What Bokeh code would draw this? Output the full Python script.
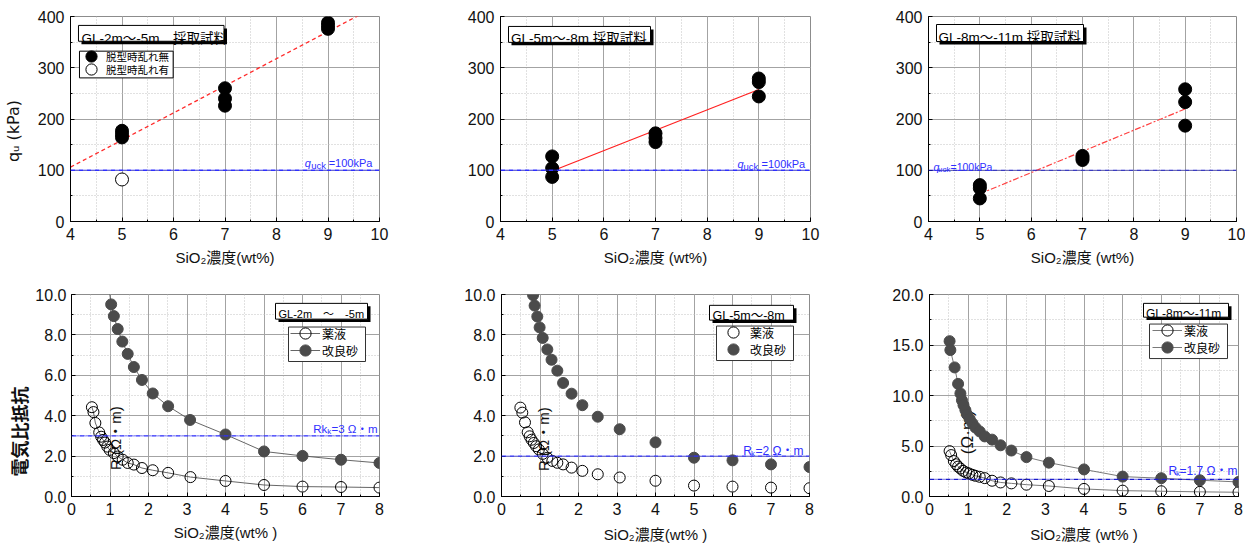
import numpy as np
from bokeh.plotting import figure
from bokeh.models import (Range1d, SingleIntervalTicker, PrintfTickFormatter, Label,
                          BoxAnnotation, Legend, LegendItem, Span)
from bokeh.layouts import row, column
from bokeh.embed import file_html
from bokeh.resources import INLINE

# ---------------- data ----------------
# upper row: qu (kPa) vs SiO2 concentration (wt%)
top1_x_intact = [5, 5, 5, 7, 7, 7, 9, 9, 9]
top1_qu_intact = [177, 170, 164, 260, 240, 226, 388, 382, 376]
top1_x_disturbed = [5]
top1_qu_disturbed = [82]

top2_x = [5, 5, 5, 7, 7, 7, 9, 9, 9]
top2_qu = [127, 104, 87, 172, 163, 155, 279, 272, 244]

top3_x = [5, 5, 5, 7, 7, 7, 9, 9, 9]
top3_qu = [71, 65, 45, 128, 124, 120, 258, 233, 187]

quck = 100

# lower row: electrical resistivity R (ohm m) vs SiO2 concentration (wt%)
bot1_x_liq = [0.53, 0.57, 0.62, 0.72, 0.77, 0.82, 0.87, 0.93, 0.99, 1.1, 1.2, 1.33, 1.46,
              1.62, 1.83, 2.11, 2.51, 3.09, 4, 5, 6, 7, 8]
bot1_r_liq = [4.42, 4.18, 3.64, 3.17, 2.96, 2.80, 2.67, 2.47, 2.31, 2.15, 1.98, 1.82, 1.66,
              1.58, 1.41, 1.30, 1.17, 0.96, 0.77, 0.57, 0.49, 0.47, 0.44]
bot1_x_sand = [0.88, 1.03, 1.1, 1.2, 1.32, 1.46, 1.62, 1.83, 2.11, 2.51, 3.08, 4, 5, 6, 7, 8]
bot1_r_sand = [11.6, 9.51, 8.93, 8.29, 7.67, 7.06, 6.41, 5.77, 5.10, 4.47, 3.79, 3.07, 2.23,
               2.01, 1.82, 1.66]
bot1_rk = 3.0

bot2_x_liq = [0.49, 0.54, 0.61, 0.68, 0.73, 0.78, 0.84, 0.90, 0.97, 1.07, 1.19, 1.32, 1.45,
              1.60, 1.82, 2.10, 2.50, 3.07, 4, 5, 6, 7, 8]
bot2_r_liq = [4.40, 4.15, 3.67, 3.18, 2.98, 2.81, 2.65, 2.49, 2.33, 2.11, 1.92, 1.76, 1.67,
              1.59, 1.43, 1.27, 1.10, 0.94, 0.78, 0.54, 0.49, 0.44, 0.41]
bot2_x_sand = [0.82, 0.86, 0.93, 0.99, 1.07, 1.19, 1.30, 1.45, 1.60, 1.82, 2.10, 2.50, 3.07,
               4, 5, 6, 7, 8]
bot2_r_sand = [9.97, 9.45, 8.91, 8.37, 7.85, 7.28, 6.77, 6.23, 5.62, 5.09, 4.52, 3.95, 3.33,
               2.68, 1.92, 1.79, 1.59, 1.46]
bot2_rk = 2.0

bot3_x_liq = [0.52, 0.56, 0.63, 0.69, 0.74, 0.80, 0.87, 0.95, 1.02, 1.11, 1.19, 1.30, 1.43,
              1.62, 1.84, 2.12, 2.51, 3.09, 4, 5, 6, 7, 8]
bot3_r_liq = [4.49, 4.10, 3.51, 3.19, 2.96, 2.77, 2.54, 2.38, 2.28, 2.15, 2.05, 1.95, 1.82,
              1.56, 1.39, 1.30, 1.17, 1.04, 0.75, 0.58, 0.52, 0.46, 0.42]
bot3_x_sand = [0.52, 0.54, 0.65, 0.74, 0.80, 0.84, 0.88, 0.93, 0.97, 1.04, 1.11, 1.19, 1.30,
               1.43, 1.62, 1.84, 2.12, 2.51, 3.09, 4, 5, 6, 7, 8]
bot3_r_sand = [15.38, 14.5, 12.78, 11.15, 10.2, 9.53, 9.04, 8.55, 8.13, 7.68, 7.25, 6.83,
               6.44, 5.95, 5.63, 5.07, 4.55, 3.9, 3.35, 2.68, 1.97, 1.81, 1.61, 1.44]
bot3_rk = 1.7

top_titles = ["GL-2m～-5m　採取試料", "GL-5m～-8m 採取試料", "GL-8m～-11m 採取試料"]
bot_titles = ["GL-2m　～　-5m", "GL-5m～-8m", "GL-8m～-11m"]
top_xlabels = ["SiO₂濃度(wt%)", "SiO₂濃度 (wt%)", "SiO₂濃度 (wt%)"]
bot_xlabels = ["SiO₂濃度(wt% )", "SiO₂濃度(wt% )", "SiO₂濃度 (wt% )"]
top_ylabel = "qᵤ (kPa)"
bot_ylabel = "電気比抵抗"
legend_top = ["脱型時乱れ無", "脱型時乱れ有"]
legend_bot = ["薬液", "改良砂"]

# ---------------- styling helpers ----------------
LAT = "Liberation Sans"
JP = "Liberation Sans, Noto Sans CJK JP"
CJK = "Noto Sans CJK JP"
BLUE = "#2f2fff"
SAND = "#4b4b4b"


class Geo:
    def __init__(self, fl, fr, ft, fb, x0, x1, y0, y1):
        self.fl, self.fr, self.ft, self.fb = fl, fr, ft, fb
        self.x0, self.x1, self.y0, self.y1 = x0, x1, y0, y1

    def x(self, px):
        return self.x0 + (px - self.fl) / (self.fr - self.fl) * (self.x1 - self.x0)

    def y(self, py):
        return self.y0 + (self.fb - py) / (self.fb - self.ft) * (self.y1 - self.y0)


def make_fig(g, box, xint, yint, yfmt=None, xlab_standoff=6):
    L, T, R, B = box
    p = figure(width=R - L, height=B - T,
               x_range=Range1d(g.x0, g.x1), y_range=Range1d(g.y0, g.y1),
               toolbar_location=None, output_backend="svg",
               min_border_left=g.fl - L, min_border_right=R - g.fr,
               min_border_top=g.ft - T, min_border_bottom=B - g.fb)
    p.outline_line_color = "#8c8c8c"
    p.background_fill_color = "white"
    p.border_fill_color = "white"
    xt = SingleIntervalTicker(interval=xint, num_minor_ticks=2)
    yt = SingleIntervalTicker(interval=yint, num_minor_ticks=2)
    p.xaxis.ticker = xt
    p.xgrid.ticker = xt
    p.yaxis.ticker = yt
    p.ygrid.ticker = yt
    if yfmt:
        p.yaxis.formatter = PrintfTickFormatter(format=yfmt)
    for gr in (p.xgrid[0], p.ygrid[0]):
        gr.grid_line_color = "#a3a3a3"
        gr.grid_line_width = 1
        gr.minor_grid_line_color = "#c2c2c2"
        gr.minor_grid_line_dash = "1 2"
        gr.minor_grid_line_width = 1
    for ax in (p.xaxis[0], p.yaxis[0]):
        ax.axis_line_color = "black"
        ax.axis_line_width = 1
        ax.major_tick_in = 4
        ax.major_tick_out = 0
        ax.minor_tick_in = 2
        ax.minor_tick_out = 0
        ax.major_tick_line_color = "black"
        ax.minor_tick_line_color = "black"
        ax.major_label_text_font = LAT
        ax.major_label_text_font_size = "16px"
        ax.major_label_text_color = "#111111"
        ax.major_label_standoff = 6
        ax.axis_label_text_font = JP
        ax.axis_label_text_font_size = "15px"
        ax.axis_label_text_font_style = "normal"
        ax.axis_label_text_color = "#111111"
        ax.axis_label_standoff = xlab_standoff
    return p


def label(p, g, px, py, text, size, font=LAT, color="#111111", style="normal",
          align="left", baseline="alphabetic", angle=0, level="annotation"):
    p.add_layout(Label(x=g.x(px), y=g.y(py), text=text, text_font=font,
                       text_font_size=f"{size}px", text_color=color,
                       text_font_style=style, text_align=align, text_baseline=baseline,
                       angle=angle, angle_units="deg", level=level))


def rect(p, g, l, t, r, b, fill, line=None, lw=1):
    p.add_layout(BoxAnnotation(left=g.x(l), right=g.x(r), top=g.y(t), bottom=g.y(b),
                               fill_color=fill, fill_alpha=1,
                               line_color=line if line else "white",
                               line_alpha=1 if line else 0, line_width=lw))


def title_box(p, g, l, t, r, b, tx, tb, text, size, shadow=3):
    rect(p, g, l + shadow, t + shadow, r + shadow, b + shadow, "black")
    rect(p, g, l, t, r, b, "white", "black", 1)
    label(p, g, tx, tb, text, size, font=JP, color="black")


def legend_entry(p, g, renderers, text, cx, cy, gw, gh, standoff, size):
    lg = Legend(items=[LegendItem(label=text, renderers=renderers)],
                location=(cx - gw / 2 - g.fl, g.fb - (cy + gh / 2)),
                padding=0, margin=0, spacing=0, glyph_width=gw, glyph_height=gh,
                label_height=gh, label_standoff=standoff,
                label_text_font=CJK, label_text_font_size=f"{size}px",
                label_text_color="black",
                border_line_alpha=0, background_fill_alpha=0)
    p.add_layout(lg)


def fit_line(xs, ys, xa, xb):
    k, b = np.polyfit(xs, ys, 1)
    return [xa, xb], [k * xa + b, k * xb + b]


def quck_text(p, g, xq, xs, xe, base, s_main, s_sub):
    label(p, g, xq, base, "q", s_main, color=BLUE, style="italic")
    label(p, g, xs, base + 2.5, "uck", s_sub, color=BLUE)
    label(p, g, xe, base, "=100kPa", s_main, color=BLUE)


def rk_text(p, g, xr, first, xs, xe, base, rest, s_main):
    label(p, g, xr, base, first, s_main, font=JP, color=BLUE)
    label(p, g, xs, base + 2.5, "k", 8, color=BLUE)
    label(p, g, xe, base, rest, s_main, font=JP, color=BLUE)


# ---------------- upper row ----------------
G1 = Geo(69, 379, 15, 222, 4, 10, 0, 400)
G2 = Geo(500, 810, 16, 222, 4, 10, 0, 400)
G3 = Geo(928, 1236, 16, 221, 4, 10, 0, 400)

f1 = make_fig(G1, (0, 0, 420, 270), 1, 100, xlab_standoff=6)
f2 = make_fig(G2, (420, 0, 840, 270), 1, 100, xlab_standoff=6)
f3 = make_fig(G3, (840, 0, 1245, 270), 1, 100, xlab_standoff=6)
for f, t in zip((f1, f2, f3), top_xlabels):
    f.xaxis.axis_label = t

# y axis label of panel 1 (trailing ideographic space shifts it down like the original)
f1.yaxis.axis_label = top_ylabel + "\u3000\u2002"
f1.yaxis.axis_label_text_font = "DejaVu Sans"
f1.yaxis.axis_label_text_font_size = "16px"
f1.yaxis.axis_label_standoff = 12

# panel 1
fx, fy = fit_line(top1_x_intact, top1_qu_intact, 4, 10)
f1.line(fx, fy, line_color="#ff2a2a", line_dash="4 3", line_width=1.3)
f1.add_layout(Span(location=quck, dimension="width", line_color=BLUE,
                   line_dash="5 1 1 1", line_width=1.3))
r_int = f1.scatter(top1_x_intact, top1_qu_intact, size=13, marker="circle",
                   fill_color="black", line_color="black")
r_dis = f1.scatter(top1_x_disturbed, top1_qu_disturbed, size=13, marker="circle",
                   fill_color="white", line_color="black", line_width=1)
quck_text(f1, G1, 304, 310.5, 328, 163, 11, 9.5)
title_box(f1, G1, 77, 24, 223, 40, 80, 37, top_titles[0], 13.5)
rect(f1, G1, 78, 50, 172, 77, "white", "black", 1)
legend_entry(f1, G1, [r_int], legend_top[0], 90, 57, 28, 28, 1, 10.5)
legend_entry(f1, G1, [r_dis], legend_top[1], 90, 70, 28, 28, 1, 10.5)

# panel 2
fx, fy = fit_line(top2_x, top2_qu, 5, 9)
f2.line(fx, fy, line_color="#ff2020", line_width=1.2)
f2.add_layout(Span(location=quck, dimension="width", line_color=BLUE,
                   line_dash="5 1 1 1", line_width=1.3))
f2.scatter(top2_x, top2_qu, size=13, marker="circle", fill_color="black", line_color="black")
quck_text(f2, G2, 737, 743, 761, 164, 11, 9.5)
title_box(f2, G2, 508, 26, 650, 42, 510.5, 38, top_titles[1], 13.5)

# panel 3
fx, fy = fit_line(top3_x, top3_qu, 5, 9)
f3.line(fx, fy, line_color="#ff4040", line_dash="6 2 2 2", line_width=1.2)
f3.add_layout(Span(location=quck, dimension="width", line_color="#1a1acc",
                   line_dash="5 1 1 1", line_width=1.2))
f3.scatter(top3_x, top3_qu, size=13, marker="circle", fill_color="black", line_color="black")
quck_text(f3, G3, 933, 937.5, 950, 166, 10.5, 8)
title_box(f3, G3, 936, 24, 1083, 41, 938, 37, top_titles[2], 13.5)

# ---------------- lower row ----------------
G4 = Geo(71, 379, 294, 499, 0, 8, 0, 10)
G5 = Geo(501, 809, 291, 496, 0, 8, 0, 10)
G6 = Geo(929, 1238, 291, 496, 0, 8, 0, 20)

f4 = make_fig(G4, (0, 270, 420, 548), 1, 2, "%.1f", xlab_standoff=6)
f5 = make_fig(G5, (420, 270, 840, 548), 1, 2, "%.1f", xlab_standoff=8)
f6 = make_fig(G6, (840, 270, 1245, 548), 1, 5, "%.1f", xlab_standoff=8)
for f, t in zip((f4, f5, f6), bot_xlabels):
    f.xaxis.axis_label = t

f4.yaxis.axis_label = bot_ylabel + "\u3000\u3000\u3000\u3000"
f4.yaxis.axis_label_text_font = CJK
f4.yaxis.axis_label_text_font_size = "18px"
f4.yaxis.axis_label_text_font_style = "bold"
f4.yaxis.axis_label_standoff = 0
f4.yaxis.major_label_standoff = 5

# panel 4
label(f4, G4, 115, 472, "R (Ω・m)", 15, font=JP, angle=90, level="underlay")
f4.add_layout(Span(location=bot1_rk, dimension="width", line_color=BLUE,
                   line_dash="5 1 1 1", line_width=1.2))
l4a = f4.line(bot1_x_liq, bot1_r_liq, line_color="#555555", line_width=0.9)
l4b = f4.line(bot1_x_sand, bot1_r_sand, line_color="#555555", line_width=0.9)
s4a = f4.scatter(bot1_x_liq, bot1_r_liq, size=11, marker="circle", fill_alpha=0,
                 line_color="black", line_width=1)
s4b = f4.scatter(bot1_x_sand, bot1_r_sand, size=11, marker="circle", fill_color=SAND,
                 line_color=SAND)
rk_text(f4, G4, 312.7, "Rk", 326.7, 331, 431, "=3 Ω・m", 11.5)
title_box(f4, G4, 275, 303, 367, 319, 278, 313.5, bot_titles[0], 11)
rect(f4, G4, 288, 327, 365, 362, "white", "#333333", 1)
legend_entry(f4, G4, [l4a, s4a], legend_bot[0], 305, 336, 30, 28, 2, 12)
legend_entry(f4, G4, [l4b, s4b], legend_bot[1], 305, 353, 30, 28, 2, 12)

# panel 5
label(f5, G5, 543, 470, "R (Ω・m)", 15, font=JP, angle=90, level="underlay")
f5.add_layout(Span(location=bot2_rk, dimension="width", line_color=BLUE,
                   line_dash="5 1 1 1", line_width=1.3))
s5a = f5.scatter(bot2_x_liq, bot2_r_liq, size=11, marker="circle", fill_alpha=0,
                 line_color="black", line_width=1)
s5b = f5.scatter(bot2_x_sand, bot2_r_sand, size=11, marker="circle", fill_color=SAND,
                 line_color=SAND)
rk_text(f5, G5, 742.7, "R", 750.5, 755, 450, "=2 Ω・m", 12)
title_box(f5, G5, 709, 302, 793, 317, 712, 312.7, bot_titles[1], 12.5)
rect(f5, G5, 716, 323, 793, 358, "white", "#333333", 1)
legend_entry(f5, G5, [s5a], legend_bot[0], 733, 332, 28, 28, 3, 12)
legend_entry(f5, G5, [s5b], legend_bot[1], 733, 349, 28, 28, 3, 12)

# panel 6
label(f6, G6, 967, 453, " (Ω·m)", 17, font=JP, angle=90, level="underlay")
f6.add_layout(Span(location=bot3_rk, dimension="width", line_color="#1a1acc",
                   line_dash="5 1 1 1", line_width=1.2))
l6a = f6.line(bot3_x_liq, bot3_r_liq, line_color="#6a6a6a", line_width=0.9)
l6b = f6.line(bot3_x_sand, bot3_r_sand, line_color="#6a6a6a", line_width=0.9)
s6a = f6.scatter(bot3_x_liq, bot3_r_liq, size=11, marker="circle", fill_alpha=0,
                 line_color="black", line_width=1)
s6b = f6.scatter(bot3_x_sand, bot3_r_sand, size=11, marker="circle", fill_color=SAND,
                 line_color=SAND)
rk_text(f6, G6, 1168, "R", 1175.5, 1179, 470, "=1.7 Ω・m", 12)
title_box(f6, G6, 1143, 300, 1228, 314, 1145.5, 310.7, bot_titles[2], 12)
rect(f6, G6, 1149, 321, 1227, 356, "white", "#333333", 1)
legend_entry(f6, G6, [l6a, s6a], legend_bot[0], 1167, 330, 30, 28, 2, 12)
legend_entry(f6, G6, [l6b, s6b], legend_bot[1], 1167, 347, 30, 28, 2, 12)

layout = column(row(f1, f2, f3), row(f4, f5, f6))
open("out.html", "w").write(file_html(layout, INLINE))
